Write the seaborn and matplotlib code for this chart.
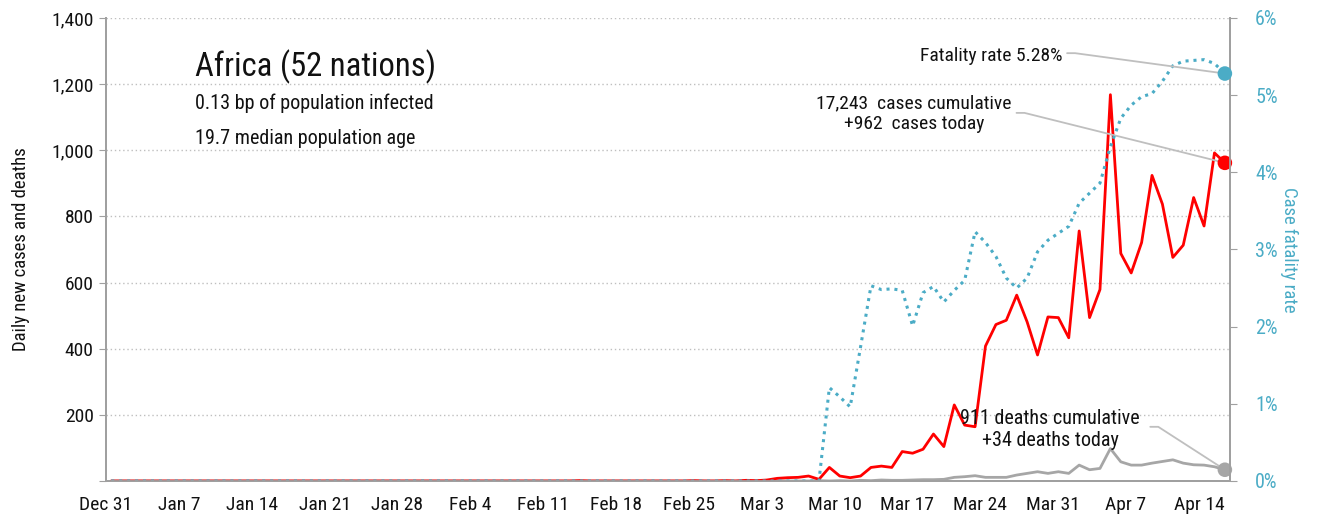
import matplotlib
matplotlib.use("Agg")
import matplotlib.pyplot as plt
import matplotlib.transforms as mtransforms
import pandas as pd
import seaborn as sns
from matplotlib.ticker import FuncFormatter

# daily values, Dec 31 2019 .. Apr 16 2020 (108 days)
cases = [
    0, 0, 0, 0, 0, 0, 0, 0, 0, 0,
    0, 0, 0, 0, 0, 0, 0, 0, 0, 0,
    0, 0, 0, 0, 0, 0, 0, 0, 0, 0,
    0, 0, 0, 0, 0, 0, 0, 0, 0, 0,
    0, 0, 0, 0, 0, 1, 0, 0, 0, 0,
    0, 0, 0, 0, 0, 0, 1, 0, 0, 1,
    0, 2, 1, 3, 8, 10, 11, 15, 5, 41,
    15, 10, 15, 41, 45, 41, 89, 84, 96, 142,
    104, 230, 169, 164, 408, 473, 486, 562, 481, 381,
    496, 494, 433, 756, 494, 579, 1168, 688, 629, 721,
    924, 837, 676, 713, 857, 771, 992, 962,
]
deaths = [
    0, 0, 0, 0, 0, 0, 0, 0, 0, 0,
    0, 0, 0, 0, 0, 0, 0, 0, 0, 0,
    0, 0, 0, 0, 0, 0, 0, 0, 0, 0,
    0, 0, 0, 0, 0, 0, 0, 0, 0, 0,
    0, 0, 0, 0, 0, 0, 0, 0, 0, 0,
    0, 0, 0, 0, 0, 0, 0, 0, 0, 0,
    0, 0, 0, 0, 0, 0, 0, 0, 1, 0,
    1, 0, 2, 1, 3, 2, 2, 3, 4, 4,
    5, 11, 13, 16, 11, 11, 11, 18, 23, 28,
    23, 28, 23, 48, 34, 38, 98, 58, 48, 48,
    54, 59, 64, 54, 49, 48, 43, 34,
]
# case fatality rate, percent
cfr = [
    0, 0, 0, 0, 0, 0, 0, 0, 0, 0,
    0, 0, 0, 0, 0, 0, 0, 0, 0, 0,
    0, 0, 0, 0, 0, 0, 0, 0, 0, 0,
    0, 0, 0, 0, 0, 0, 0, 0, 0, 0,
    0, 0, 0, 0, 0, 0, 0, 0, 0, 0,
    0, 0, 0, 0, 0, 0, 0, 0, 0, 0,
    0, 0, 0, 0, 0, 0, 0, 0, 0, 1.21,
    1.09, 0.96, 1.74, 2.53, 2.48, 2.49, 2.47, 2.01, 2.44, 2.52,
    2.32, 2.47, 2.60, 3.23, 3.09, 2.91, 2.63, 2.50, 2.63, 2.97,
    3.12, 3.21, 3.30, 3.60, 3.73, 3.86, 4.33, 4.70, 4.87, 4.98,
    5.02, 5.18, 5.38, 5.44, 5.45, 5.46, 5.41, 5.28,
]
x_tick_labels = ["Dec 31", "Jan 7", "Jan 14", "Jan 21", "Jan 28", "Feb 4",
                 "Feb 11", "Feb 18", "Feb 25", "Mar 3", "Mar 10", "Mar 17",
                 "Mar 24", "Mar 31", "Apr 7", "Apr 14"]
left_ticks = [0, 200, 400, 600, 800, 1000, 1200, 1400]
right_ticks = [0, 1, 2, 3, 4, 5, 6]

title = "Africa (52 nations)"
subtitle_1 = "0.13 bp of population infected"
subtitle_2 = "19.7 median population age"
cases_note = "17,243  cases cumulative\n+962  cases today"
deaths_note = "911 deaths cumulative\n+34 deaths today"
cfr_note = "Fatality rate 5.28%"

RED = "#FF0000"
GREY = "#A6A6A6"
BLUE = "#4BACC6"
AXIS = "#A0A0A0"
INK = "#111111"

# points sit in the middle of each day
dates = pd.date_range("2019-12-31 12:00", periods=len(cases), freq="D")
df = pd.DataFrame({"date": dates, "cases": cases, "deaths": deaths, "cfr": cfr})

sns.set_style("white")
plt.rcParams["font.family"] = ["Roboto Condensed", "DejaVu Sans"]
plt.rcParams["font.weight"] = 400
plt.rcParams["text.color"] = INK
plt.rcParams["axes.labelcolor"] = INK
plt.rcParams["xtick.labelcolor"] = INK
plt.rcParams["ytick.labelcolor"] = INK

fig = plt.figure(figsize=(13.17, 5.21), dpi=100)
ax = fig.add_axes([0.0805, 0.0768, 0.8535, 0.8887])
ax2 = ax.twinx()

sns.lineplot(data=df, x="date", y="cases", color=RED, lw=2, ax=ax, zorder=3)
sns.lineplot(data=df, x="date", y="deaths", color=GREY, lw=2, ax=ax, zorder=2)
sns.lineplot(data=df, x="date", y="cfr", color=BLUE, lw=2.2, ax=ax2,
             linestyle=(0, (1, 1.6)))

last = df.iloc[[-1]]
sns.scatterplot(data=last, x="date", y="cases", color=RED, s=110, ax=ax,
                edgecolor="none", zorder=5, clip_on=False)
sns.scatterplot(data=last, x="date", y="deaths", color=GREY, s=110, ax=ax,
                edgecolor="none", zorder=5, clip_on=False)
sns.scatterplot(data=last, x="date", y="cfr", color=BLUE, s=110, ax=ax2,
                edgecolor="none", zorder=5, clip_on=False)

ax.set_xlim(pd.Timestamp("2019-12-31"), pd.Timestamp("2020-04-17"))
ax.set_ylim(0, 1400)
ax2.set_ylim(0, 6)

tick_dates = pd.date_range("2019-12-31", periods=len(x_tick_labels), freq="7D")
ax.set_xticks(tick_dates)
ax.set_xticklabels(x_tick_labels, fontsize=14)
shift = mtransforms.ScaledTranslation(5 / 100, 0, fig.dpi_scale_trans)
for lbl in ax.get_xticklabels():
    lbl.set_transform(lbl.get_transform() + shift)
ax.set_yticks(left_ticks)
ax.yaxis.set_major_formatter(FuncFormatter(lambda v, p: "" if v == 0 else f"{v:,.0f}"))
ax.tick_params(axis="y", labelsize=14, length=5, color=AXIS, pad=4)
ax.tick_params(axis="x", length=5, color=AXIS, pad=6)
ax2.set_yticks(right_ticks)
ax2.yaxis.set_major_formatter(FuncFormatter(lambda v, p: f"{v:.0f}%"))
ax2.tick_params(axis="y", labelsize=14.5, length=5, color=AXIS, labelcolor=BLUE, pad=13)

ax.set_xlabel("")
ax.set_ylabel("Daily new cases and deaths", fontsize=13.5, labelpad=15)
ax2.set_ylabel("Case fatality rate", fontsize=13.5, color=BLUE, rotation=270,
               labelpad=15)

ax.yaxis.grid(True, linestyle=(0, (1, 2)), color="#BFBFBF", lw=1)
ax.set_axisbelow(True)
for a in (ax, ax2):
    a.spines["top"].set_visible(False)
    for s in ("left", "right", "bottom"):
        a.spines[s].set_color(AXIS)
        a.spines[s].set_linewidth(1.3)

ax.text(0.079, 0.895, title, transform=ax.transAxes, fontsize=23.5,
        va="center", ha="left")
ax.text(0.079, 0.815, subtitle_1, transform=ax.transAxes, fontsize=14.5,
        va="center", ha="left")
ax.text(0.079, 0.74, subtitle_2, transform=ax.transAxes, fontsize=14.5,
        va="center", ha="left")

line_kw = dict(arrowstyle="-", color="#BFBFBF", lw=1.3, shrinkA=0, shrinkB=4,
               connectionstyle="arc,angleA=0,armA=8,angleB=0,armB=0,rad=0")

ax2.text(0.851, 0.918, cfr_note, transform=ax.transAxes, fontsize=14,
         ha="right", va="center")
ax2.annotate("", xy=(last["date"].iloc[0], last["cfr"].iloc[0]),
             xytext=(0.855, 0.924), textcoords=ax.transAxes, arrowprops=line_kw)

ax2.text(0.719, 0.794, cases_note, transform=ax.transAxes, fontsize=14,
         ha="center", va="center", linespacing=1.2)
ax.annotate("", xy=(last["date"].iloc[0], last["cases"].iloc[0]),
            xytext=(0.81, 0.795), textcoords=ax.transAxes, arrowprops=line_kw)

ax2.text(0.84, 0.112, deaths_note, transform=ax.transAxes, fontsize=14.5,
         ha="center", va="center", linespacing=1.2)
ax.annotate("", xy=(last["date"].iloc[0], last["deaths"].iloc[0]),
            xytext=(0.929, 0.117), textcoords=ax.transAxes, arrowprops=line_kw)

fig.savefig("out.png", dpi=100)
